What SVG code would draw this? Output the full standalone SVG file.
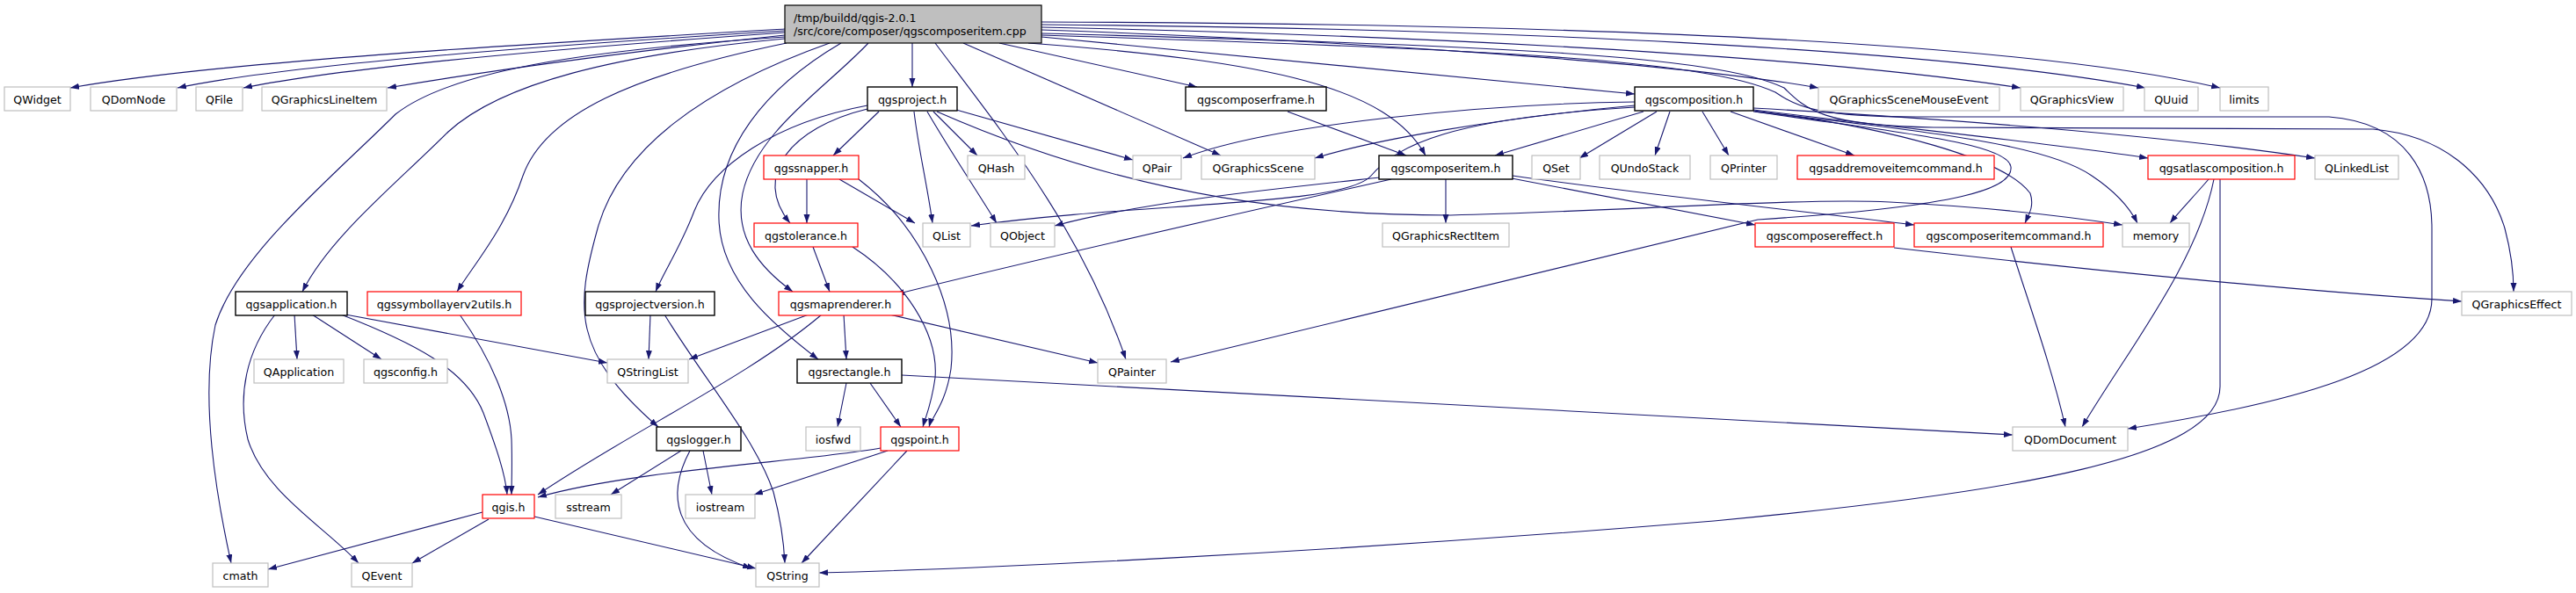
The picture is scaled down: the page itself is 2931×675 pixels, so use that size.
<svg xmlns="http://www.w3.org/2000/svg" width="2931" height="675" viewBox="0 0 2931 675">
<defs>
<style>
text{font-family:"DejaVu Sans","Liberation Sans",sans-serif;font-size:12.6px;fill:#000;text-anchor:middle}
rect{fill:#fff;stroke-width:1.2}
.m rect{fill:#bfbfbf;stroke:#000}
.b rect{stroke:#000;stroke-width:1.4}
.r rect{stroke:#ff0000}
.g rect{stroke:#bfbfbf}
#edges path{fill:none;stroke:#191970;stroke-width:1.1;marker-end:url(#a)}
</style>
<marker id="a" markerWidth="10" markerHeight="8" refX="10" refY="3.5" orient="auto" markerUnits="userSpaceOnUse"><path d="M0,0 L10,3.5 L0,7 z" fill="#191970"/></marker>
</defs>
<rect x="0" y="0" width="2931" height="675" style="fill:#fff;stroke:none"/>
<g id="edges">
<path d="M893,33 C600,50 250,70 80,100"/>
<path d="M893,35 C620,52 330,73 202,100"/>
<path d="M893,37 C650,54 400,75 277,100"/>
<path d="M893,40 C720,58 560,80 441,100"/>
<path d="M893,42 C700,55 520,75 450,130 C380,200 270,290 245,370 C228,450 245,560 263,641"/>
<path d="M893,44 C700,62 570,95 510,150 C450,210 375,270 344,332"/>
<path d="M895,49 C720,85 620,130 595,200 C575,260 540,300 520,332"/>
<path d="M944,49 C800,100 705,170 680,260 C655,350 650,400 749,486"/>
<path d="M957,49 C870,100 815,170 818,250 C820,320 880,370 931,409"/>
<path d="M988,49 C940,100 860,150 845,220 C835,270 865,305 902,332"/>
<path d="M1038,49 L1038,99"/>
<path d="M1064,49 C1140,150 1230,260 1281,409"/>
<path d="M1096,49 L1389,177"/>
<path d="M1137,49 L1362,99"/>
<path d="M1170,49 C1450,70 1580,100 1622,177"/>
<path d="M1185,42 L1860,107"/>
<path d="M1185,34 C1500,45 1900,70 2069,100"/>
<path d="M1185,31 C1600,40 2050,62 2299,100"/>
<path d="M1185,28 C1700,32 2200,55 2441,100"/>
<path d="M1185,25 C1800,27 2300,48 2526,100"/>
<path d="M1185,38 C1700,52 1950,62 2030,100 C2055,125 2075,143 2200,145 L2700,147 C2790,155 2835,210 2850,260 C2858,290 2860,310 2860,332"/>
<path d="M1185,40 C1700,56 1940,68 2020,105 C2045,122 2070,133 2180,133 L2650,133 C2740,140 2767,200 2767,260 L2767,340 C2767,420 2600,460 2421,488"/>
<path d="M1000,127 L948,177"/>
<path d="M1062,127 L1112,177"/>
<path d="M1088,125 L1289,182"/>
<path d="M1040,127 C1045,170 1055,210 1061,254"/>
<path d="M1055,127 C1080,170 1110,215 1134,254"/>
<path d="M1066,127 C1300,230 1500,245 1650,245 C1850,240 2050,225 2150,230 C2250,235 2330,243 2415,256"/>
<path d="M987,124 C900,145 855,200 899,254"/>
<path d="M987,120 C880,140 810,190 790,240 C775,280 755,310 746,332"/>
<path d="M918,204 L918,254"/>
<path d="M955,204 L1041,254"/>
<path d="M977,204 C1050,260 1090,350 1082,420 C1076,460 1060,475 1057,486"/>
<path d="M925,281 L944,332"/>
<path d="M970,281 C1030,320 1068,380 1064,430 C1060,460 1053,475 1050,486"/>
<path d="M920,358 L784,409"/>
<path d="M960,358 L963,409"/>
<path d="M1012,358 L1249,413"/>
<path d="M935,358 C850,430 720,490 612,563"/>
<path d="M990,436 L1025,486"/>
<path d="M963,436 L953,486"/>
<path d="M1026,427 C1500,450 1900,475 2290,495"/>
<path d="M1002,510 C920,525 720,535 612,566"/>
<path d="M1010,513 L858,563"/>
<path d="M1032,513 L912,641"/>
<path d="M549,583 L305,648"/>
<path d="M556,591 L469,641"/>
<path d="M608,588 L860,647"/>
<path d="M335,358 L338,409"/>
<path d="M355,358 L434,409"/>
<path d="M393,358 L691,413"/>
<path d="M313,358 C280,400 270,450 282,500 C300,560 370,600 408,641"/>
<path d="M388,358 C470,390 530,420 550,470 C565,510 575,540 577,563"/>
<path d="M523,358 C560,410 580,460 582,500 C583,530 582,550 582,563"/>
<path d="M740,358 L738,409"/>
<path d="M756,358 C800,430 860,500 880,560 C888,590 892,620 893,641"/>
<path d="M775,513 L695,563"/>
<path d="M800,513 L810,563"/>
<path d="M785,513 C760,560 760,615 855,647"/>
<path d="M1465,127 L1600,177"/>
<path d="M1860,116 C1700,118 1450,140 1346,180"/>
<path d="M1860,120 C1700,135 1560,160 1496,180"/>
<path d="M1870,127 L1701,177"/>
<path d="M1885,127 L1797,180"/>
<path d="M1900,127 L1883,177"/>
<path d="M1937,127 L1967,177"/>
<path d="M1969,127 L2110,177"/>
<path d="M1995,125 C2200,150 2350,165 2444,180"/>
<path d="M1995,123 C2300,140 2500,160 2634,180"/>
<path d="M1860,122 C1650,135 1590,165 1560,200 C1530,235 1300,230 1105,257"/>
<path d="M1997,127 C2150,150 2285,162 2288,190 C2291,215 2230,235 2000,250 L1332,412"/>
<path d="M1995,126 C2150,145 2280,180 2310,220 C2315,235 2308,245 2304,254"/>
<path d="M1995,127 C2200,150 2330,165 2380,200 C2410,220 2425,240 2432,254"/>
<path d="M1645,204 L1645,254"/>
<path d="M1720,203 L1997,256"/>
<path d="M1721,200 C1900,225 2050,240 2178,256"/>
<path d="M1583,204 C1400,245 1200,290 1019,335"/>
<path d="M1570,202 C1450,215 1300,230 1200,257"/>
<path d="M2513,204 C2495,225 2480,240 2469,254"/>
<path d="M2519,204 C2500,300 2420,400 2369,486"/>
<path d="M2526,204 L2526,440 C2526,520 2300,560 1950,593 C1500,630 1100,648 932,652"/>
<path d="M2155,282 C2400,310 2600,330 2801,343"/>
<path d="M2288,281 C2310,350 2335,420 2350,486"/>
</g>
<g id="n_main" class="m"><rect x="893" y="6" width="292" height="43"/><text x="903" y="25" style="text-anchor:start">/tmp/buildd/qgis-2.0.1</text><text x="903" y="40" style="text-anchor:start">/src/core/composer/qgscomposeritem.cpp</text></g>
<g id="n_QWidget" class="g"><rect x="5" y="99" width="75" height="27"/><text x="42.5" y="117.5">QWidget</text></g>
<g id="n_QDomNode" class="g"><rect x="103" y="99" width="98" height="27"/><text x="152" y="117.5">QDomNode</text></g>
<g id="n_QFile" class="g"><rect x="223" y="99" width="53" height="27"/><text x="249.5" y="117.5">QFile</text></g>
<g id="n_QGraphicsLineItem" class="g"><rect x="298" y="99" width="142" height="27"/><text x="369" y="117.5">QGraphicsLineItem</text></g>
<g id="n_qgsproject" class="b"><rect x="987" y="99" width="102" height="27"/><text x="1038" y="117.5">qgsproject.h</text></g>
<g id="n_qgscomposerframe" class="b"><rect x="1349" y="99" width="160" height="27"/><text x="1429" y="117.5">qgscomposerframe.h</text></g>
<g id="n_qgscomposition" class="b"><rect x="1860" y="99" width="135" height="27"/><text x="1927.5" y="117.5">qgscomposition.h</text></g>
<g id="n_QGraphicsSceneMouseEvent" class="g"><rect x="2069" y="99" width="206" height="27"/><text x="2172" y="117.5">QGraphicsSceneMouseEvent</text></g>
<g id="n_QGraphicsView" class="g"><rect x="2299" y="99" width="117" height="27"/><text x="2357.5" y="117.5">QGraphicsView</text></g>
<g id="n_QUuid" class="g"><rect x="2440" y="99" width="61" height="27"/><text x="2470.5" y="117.5">QUuid</text></g>
<g id="n_limits" class="g"><rect x="2526" y="99" width="55" height="27"/><text x="2553.5" y="117.5">limits</text></g>
<g id="n_qgssnapper" class="r"><rect x="869" y="177" width="108" height="27"/><text x="923" y="195.5">qgssnapper.h</text></g>
<g id="n_QHash" class="g"><rect x="1101" y="177" width="65" height="27"/><text x="1133.5" y="195.5">QHash</text></g>
<g id="n_QPair" class="g"><rect x="1289" y="177" width="55" height="27"/><text x="1316.5" y="195.5">QPair</text></g>
<g id="n_QGraphicsScene" class="g"><rect x="1367" y="177" width="129" height="27"/><text x="1431.5" y="195.5">QGraphicsScene</text></g>
<g id="n_qgscomposeritem" class="b"><rect x="1569" y="177" width="152" height="27"/><text x="1645" y="195.5">qgscomposeritem.h</text></g>
<g id="n_QSet" class="g"><rect x="1743" y="177" width="55" height="27"/><text x="1770.5" y="195.5">QSet</text></g>
<g id="n_QUndoStack" class="g"><rect x="1820" y="177" width="103" height="27"/><text x="1871.5" y="195.5">QUndoStack</text></g>
<g id="n_QPrinter" class="g"><rect x="1946" y="177" width="76" height="27"/><text x="1984" y="195.5">QPrinter</text></g>
<g id="n_qgsaddremoveitemcommand" class="r"><rect x="2045" y="177" width="224" height="27"/><text x="2157" y="195.5">qgsaddremoveitemcommand.h</text></g>
<g id="n_qgsatlascomposition" class="r"><rect x="2444" y="177" width="167" height="27"/><text x="2527.5" y="195.5">qgsatlascomposition.h</text></g>
<g id="n_QLinkedList" class="g"><rect x="2634" y="177" width="95" height="27"/><text x="2681.5" y="195.5">QLinkedList</text></g>
<g id="n_qgstolerance" class="r"><rect x="858" y="254" width="118" height="27"/><text x="917" y="272.5">qgstolerance.h</text></g>
<g id="n_QList" class="g"><rect x="1050" y="254" width="54" height="27"/><text x="1077" y="272.5">QList</text></g>
<g id="n_QObject" class="g"><rect x="1127" y="254" width="73" height="27"/><text x="1163.5" y="272.5">QObject</text></g>
<g id="n_QGraphicsRectItem" class="g"><rect x="1573" y="254" width="144" height="27"/><text x="1645" y="272.5">QGraphicsRectItem</text></g>
<g id="n_qgscomposereffect" class="r"><rect x="1997" y="254" width="158" height="27"/><text x="2076" y="272.5">qgscomposereffect.h</text></g>
<g id="n_qgscomposeritemcommand" class="r"><rect x="2178" y="254" width="215" height="27"/><text x="2285.5" y="272.5">qgscomposeritemcommand.h</text></g>
<g id="n_memory" class="g"><rect x="2415" y="254" width="76" height="27"/><text x="2453" y="272.5">memory</text></g>
<g id="n_qgsapplication" class="b"><rect x="268" y="332" width="127" height="27"/><text x="331.5" y="350.5">qgsapplication.h</text></g>
<g id="n_qgssymbollayerv2utils" class="r"><rect x="418" y="332" width="175" height="27"/><text x="505.5" y="350.5">qgssymbollayerv2utils.h</text></g>
<g id="n_qgsprojectversion" class="b"><rect x="666" y="332" width="147" height="27"/><text x="739.5" y="350.5">qgsprojectversion.h</text></g>
<g id="n_qgsmaprenderer" class="r"><rect x="886" y="332" width="141" height="27"/><text x="956.5" y="350.5">qgsmaprenderer.h</text></g>
<g id="n_QGraphicsEffect" class="g"><rect x="2801" y="332" width="125" height="27"/><text x="2863.5" y="350.5">QGraphicsEffect</text></g>
<g id="n_QApplication" class="g"><rect x="289" y="409" width="102" height="27"/><text x="340" y="427.5">QApplication</text></g>
<g id="n_qgsconfig" class="g"><rect x="414" y="409" width="95" height="27"/><text x="461.5" y="427.5">qgsconfig.h</text></g>
<g id="n_QStringList" class="g"><rect x="691" y="409" width="92" height="27"/><text x="737" y="427.5">QStringList</text></g>
<g id="n_qgsrectangle" class="b"><rect x="907" y="409" width="119" height="27"/><text x="966.5" y="427.5">qgsrectangle.h</text></g>
<g id="n_QPainter" class="g"><rect x="1249" y="409" width="78" height="27"/><text x="1288" y="427.5">QPainter</text></g>
<g id="n_qgslogger" class="b"><rect x="747" y="486" width="96" height="27"/><text x="795" y="504.5">qgslogger.h</text></g>
<g id="n_iosfwd" class="g"><rect x="917" y="486" width="62" height="27"/><text x="948" y="504.5">iosfwd</text></g>
<g id="n_qgspoint" class="r"><rect x="1002" y="486" width="89" height="27"/><text x="1046.5" y="504.5">qgspoint.h</text></g>
<g id="n_QDomDocument" class="g"><rect x="2290" y="486" width="131" height="27"/><text x="2355.5" y="504.5">QDomDocument</text></g>
<g id="n_qgis" class="r"><rect x="549" y="563" width="59" height="27"/><text x="578.5" y="581.5">qgis.h</text></g>
<g id="n_sstream" class="g"><rect x="632" y="563" width="75" height="27"/><text x="669.5" y="581.5">sstream</text></g>
<g id="n_iostream" class="g"><rect x="780" y="563" width="79" height="27"/><text x="819.5" y="581.5">iostream</text></g>
<g id="n_cmath" class="g"><rect x="242" y="641" width="63" height="27"/><text x="273.5" y="659.5">cmath</text></g>
<g id="n_QEvent" class="g"><rect x="400" y="641" width="69" height="27"/><text x="434.5" y="659.5">QEvent</text></g>
<g id="n_QString" class="g"><rect x="860" y="641" width="72" height="27"/><text x="896" y="659.5">QString</text></g>
</svg>
